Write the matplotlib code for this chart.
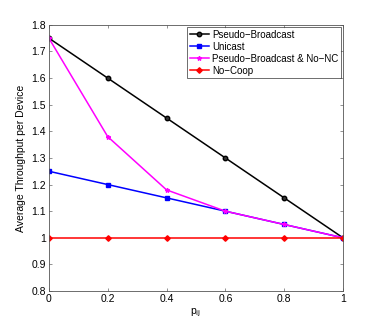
import matplotlib
matplotlib.use('Agg')
import matplotlib.pyplot as plt

plt.rcParams['font.family'] = ['Liberation Sans', 'DejaVu Sans']
plt.rcParams['font.size'] = 7.5

p = [0, 0.2, 0.4, 0.6, 0.8, 1.0]
pseudo_broadcast = [1.75, 1.60, 1.45, 1.30, 1.15, 1.00]
unicast = [1.25, 1.20, 1.15, 1.10, 1.05, 1.00]
pseudo_no_nc = [1.75, 1.38, 1.18, 1.10, 1.05, 1.00]
no_coop = [1.00, 1.00, 1.00, 1.00, 1.00, 1.00]

fig = plt.figure(figsize=(3.79, 3.27), dpi=100)
ax = fig.add_axes([0.129, 0.110, 0.776, 0.814])

ax.plot(p, pseudo_broadcast, color='black', marker='o', markersize=3.2,
        markerfacecolor='#333333', lw=1.1, label='Pseudo\u2212Broadcast')
ax.plot(p, unicast, color='blue', marker='s', markersize=2.8,
        lw=1.1, label='Unicast')
ax.plot(p, pseudo_no_nc, color='magenta', marker='*', markersize=3.2,
        lw=1.1, label='Pseudo\u2212Broadcast & No\u2212NC')
ax.plot(p, no_coop, color='red', marker='D', markersize=2.8,
        lw=1.1, label='No\u2212Coop')

ax.set_xlim(0, 1)
ax.set_ylim(0.8, 1.8)
ax.set_xticks(p)
ax.set_xticklabels(['0', '0.2', '0.4', '0.6', '0.8', '1'])
ax.set_yticks([0.8, 0.9, 1.0, 1.1, 1.2, 1.3, 1.4, 1.5, 1.6, 1.7, 1.8])
ax.set_yticklabels(['0.8', '0.9', '1', '1.1', '1.2', '1.3', '1.4', '1.5', '1.6', '1.7', '1.8'])
ax.tick_params(direction='in', length=2.5, width=0.5, top=True, right=True, pad=2,
               color='#666666')
for s in ax.spines.values():
    s.set_linewidth(0.6)
    s.set_color('#555555')

ax.set_xlabel('p$_{\\mathrm{ij}}$', labelpad=2)
ax.set_ylabel('Average Throughput per Device', labelpad=4)

leg = ax.legend(loc='upper right', fontsize=7, frameon=True, fancybox=False,
                borderpad=0.25, labelspacing=0.2, handlelength=2.0,
                handletextpad=0.3, borderaxespad=0.25)
leg.get_frame().set_edgecolor('black')
leg.get_frame().set_linewidth(0.5)

fig.savefig('out.png', dpi=100)
